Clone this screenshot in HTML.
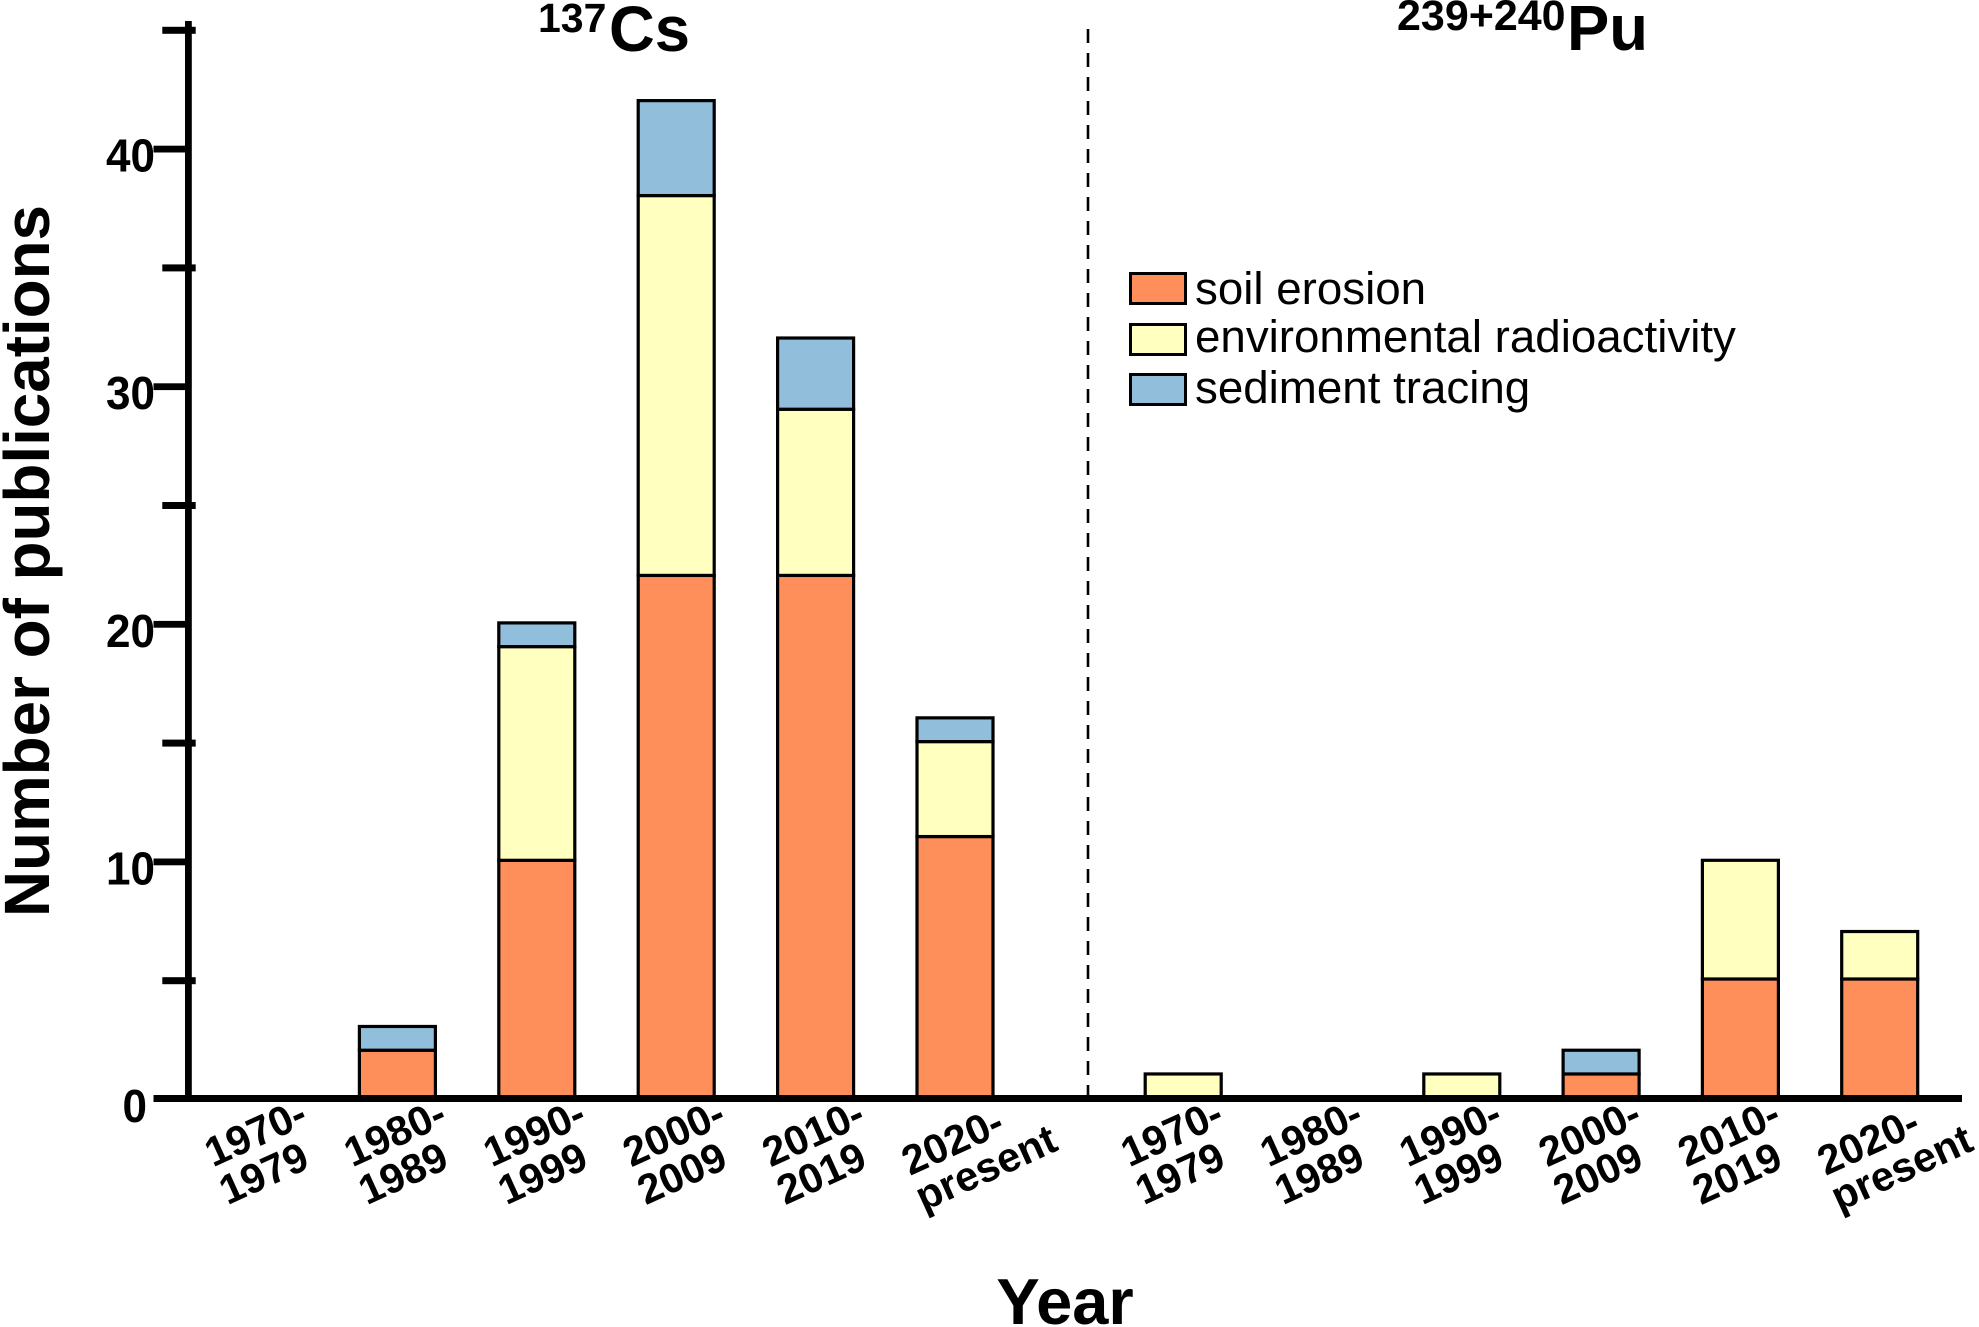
<!DOCTYPE html>
<html lang="en">
<head>
<meta charset="utf-8">
<title>Publications by decade</title>
<style>
html,body{margin:0;padding:0;background:#fff;}
svg{display:block;font-family:"Liberation Sans",Arial,sans-serif;}
</style>
</head>
<body>
<svg id="chart" xmlns="http://www.w3.org/2000/svg" width="1979" height="1327" viewBox="0 0 1979 1327">
  <rect x="0" y="0" width="1979" height="1327" fill="#ffffff"/>
  <g id="bars"></g>
  <g id="axes"></g>
  <g id="xlabels"></g>

  <line x1="1088" y1="29" x2="1088" y2="1095" stroke="#000" stroke-width="2.6" stroke-dasharray="14 10"/>

  <text font-weight="700"><tspan x="538" y="32" font-size="41">137</tspan><tspan x="609" y="51" font-size="64" textLength="81" lengthAdjust="spacingAndGlyphs">Cs</tspan></text>
  <text font-weight="700"><tspan x="1397" y="30" font-size="43">239+240</tspan><tspan x="1567" y="50" font-size="64" textLength="81" lengthAdjust="spacingAndGlyphs">Pu</tspan></text>

  <text transform="translate(49,917) rotate(-90)" font-size="64" font-weight="700" textLength="712" lengthAdjust="spacingAndGlyphs">Number of publications</text>
  <text x="1065" y="1324" text-anchor="middle" font-size="65" font-weight="700">Year</text>

  <g>
    <rect x="1130.5" y="273.5" width="55" height="30" fill="#ff8f5a" stroke="#000" stroke-width="3"/>
    <text x="1195" y="304" font-size="45.7">soil erosion</text>
    <rect x="1130.5" y="324.5" width="55" height="30" fill="#ffffbf" stroke="#000" stroke-width="3"/>
    <text x="1195" y="352" font-size="45.7">environmental radioactivity</text>
    <rect x="1130.5" y="374.5" width="55" height="30" fill="#91bfdb" stroke="#000" stroke-width="3"/>
    <text x="1195" y="403" font-size="45.7">sediment tracing</text>
  </g>
</svg>
<script>
var decadesLine1 = ["1970-","1980-","1990-","2000-","2010-","2020-"];
var decadesLine2 = ["1979","1989","1999","2009","2019","present"];
var csSoil = [0,2,10,22,22,11];
var csEnv  = [0,0,9,16,7,4];
var csSed  = [0,1,1,4,3,1];
var puSoil = [0,0,0,1,5,5];
var puEnv  = [1,0,1,0,5,2];
var puSed  = [0,0,0,1,0,0];
var majorTicks = [0,10,20,30,40];
var minorTicks = [5,15,25,35,45];

var NS = "http://www.w3.org/2000/svg";
function yScale(v){ return 1097.7 - v * 23.74; }
function tickY(v){ return 1099.5 - v * 23.76; }
function xScale(group, i){ return group === 0 ? 258 + i * 139.4 : 1183.2 + i * 139.3; }
var BAR_W = 76;
var fills = {soil:"#ff8f5a", env:"#ffffbf", sed:"#91bfdb"};

function make(parent, tag, attrs){
  var el = document.createElementNS(NS, tag);
  for (var k in attrs) el.setAttribute(k, attrs[k]);
  parent.appendChild(el);
  return el;
}

var barsG = document.getElementById("bars");
var axesG = document.getElementById("axes");
var labelsG = document.getElementById("xlabels");

function drawSegment(group, i, from, val, kind){
  if (val <= 0) return;
  var top = yScale(from + val);
  var bottom = yScale(from);
  var r = make(barsG, "rect", {
    x: xScale(group, i) - BAR_W / 2,
    y: top,
    width: BAR_W,
    height: bottom - top,
    fill: fills[kind],
    stroke: "#000",
    "stroke-width": 3.2
  });
  
  
}

function drawGroup(group, soil, env, sed){
  for (var i = 0; i < soil.length; i++){
    drawSegment(group, i, 0, soil[i], "soil");
    drawSegment(group, i, soil[i], env[i], "env");
    drawSegment(group, i, soil[i] + env[i], sed[i], "sed");
  }
}
drawGroup(0, csSoil, csEnv, csSed);
drawGroup(1, puSoil, puEnv, puSed);

var yAxis = make(axesG, "rect", {x:185, y:21, width:6.8, height:1078, fill:"#000"});



var xAxis = make(axesG, "rect", {x:153.5, y:1095, width:1808.5, height:7, fill:"#000"});



majorTicks.forEach(function(v){
  var y = tickY(v);
  if (v !== 0) {
    var t = make(axesG, "rect", {x:153.5, y:y - 3.4, width:34, height:6.8, fill:"#000"});
    
    
  }
  var s = String(v);
  var lab = make(axesG, "text", {
    x: v === 0 ? 122.5 : 106,
    y: y + 22.5,
    "font-size": 46,
    "font-weight": 700,
    textLength: s.length * 24.5,
    lengthAdjust: "spacingAndGlyphs"
  });
  lab.textContent = s;
  
  
});

minorTicks.forEach(function(v){
  var t = make(axesG, "rect", {x:162.3, y:tickY(v) - 3.5, width:33.4, height:7, fill:"#000"});
  
  
});

function drawLabels(group){
  for (var i = 0; i < decadesLine1.length; i++){
    var isLong = decadesLine2[i].length > 4;
    var cx = xScale(group, i);
    var sx = cx - 45 - (group === 1 ? 9 : 0);
    var sy = isLong ? 1176 : 1167.5;
    var g = make(labelsG, "g", {transform: "translate(" + sx + "," + sy + ") rotate(-24.5)"});
    
    
    var a = make(g, "text", {x:0, y:0, "font-size":41.5, "font-weight":700});
    a.textContent = decadesLine1[i];
    
    
    var b = make(g, "text", {
      x: isLong ? -2.5 : -2.5,
      y: isLong ? 38 : 40.5,
      "font-size":41.5,
      "font-weight":700
    });
    b.textContent = decadesLine2[i];
    
    
  }
}
drawLabels(0);
drawLabels(1);
</script>
</body>
</html>
